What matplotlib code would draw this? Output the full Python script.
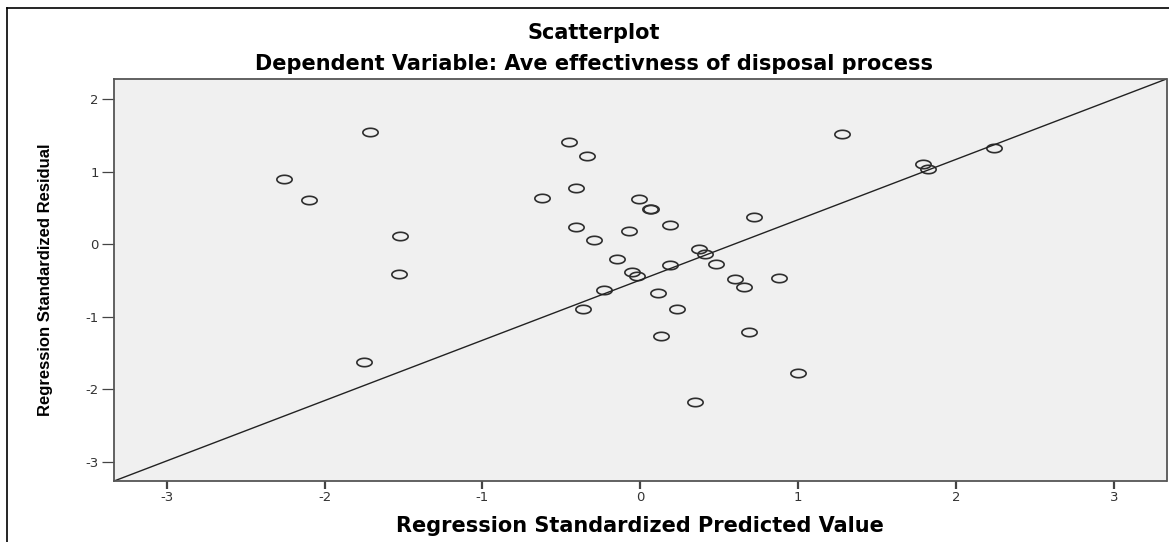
import matplotlib
matplotlib.use("Agg")
import matplotlib.pyplot as plt
from matplotlib.path import Path
from matplotlib.lines import Line2D
import numpy as np

# standardized predicted values and residuals
pred = [-1.71, -2.26, -2.10, -1.52, -1.53, -1.75, -0.45, -0.34, -0.62, -0.41,
        -0.41, -0.01, 0.07, 0.06, -0.07, 0.19, 0.72, -0.29, -0.15, 0.37,
        0.41, 0.48, 0.19, -0.05, -0.02, 0.60, 0.66, 0.88, -0.23, 0.11,
        -0.36, 0.23, 0.13, 0.69, 1.00, 0.35, 1.28, 1.79, 1.82, 2.24]
resid = [1.54, 0.90, 0.61, 0.11, -0.41, -1.62, 1.40, 1.22, 0.64, 0.77,
         0.24, 0.62, 0.48, 0.49, 0.18, 0.26, 0.38, 0.05, -0.20, -0.07,
         -0.14, -0.27, -0.29, -0.39, -0.44, -0.48, -0.59, -0.47, -0.63, -0.67,
         -0.90, -0.89, -1.26, -1.21, -1.77, -2.18, 1.52, 1.11, 1.04, 1.33]

# reference line
line_intercept = -0.495
line_slope = 0.831

x_ticks = [-3, -2, -1, 0, 1, 2, 3]
y_ticks = [-3, -2, -1, 0, 1, 2]
x_lim = (-3.334, 3.334)
y_lim = (-3.265, 2.275)

# horizontally stretched open circle
t = np.linspace(0, 2 * np.pi, 60)
ellipse = Path(np.column_stack([np.cos(t), 0.55 * np.sin(t)]), closed=True)

fig = plt.figure(figsize=(11.69, 5.42), dpi=100)
fig.patch.set_facecolor("white")
ax = fig.add_axes([114 / 1169, 1 - 481 / 542, (1166.5 - 114) / 1169, (481 - 79) / 542])
ax.set_facecolor("#f0f0f0")

ax.plot(pred, resid, linestyle="none", marker=ellipse, markersize=11,
        markerfacecolor="none", markeredgecolor="#2e2e2e", markeredgewidth=1.2)

xs = np.array(x_lim)
ax.plot(xs, line_intercept + line_slope * xs, color="#222222", linewidth=1.0)

ax.set_xlim(*x_lim)
ax.set_ylim(*y_lim)
ax.set_xticks(x_ticks)
ax.set_yticks(y_ticks)
ax.set_xticklabels([str(v) for v in x_ticks])
ax.set_yticklabels([str(v) for v in y_ticks])

for s in ax.spines.values():
    s.set_color("#555555")
    s.set_linewidth(1.3)

ax.tick_params(axis="x", direction="out", length=5.5, width=1.6, color="#444444",
               labelsize=9.5, labelcolor="#333333", pad=2)
ax.tick_params(axis="y", direction="out", length=8.5, width=0.9, color="#444444",
               labelsize=9.5, labelcolor="#333333", pad=2.5)
for lab in ax.get_xticklabels() + ax.get_yticklabels():
    lab.set_family(["DejaVu Sans"])

ax.set_xlabel("Regression Standardized Predicted Value", fontsize=15,
              fontweight="bold", family=["DejaVu Sans"], labelpad=8)
fig.text(46 / 1169, 1 - 280 / 542, "Regression Standardized Residual",
         rotation=90, ha="center", va="center", fontsize=12, fontweight="bold",
         family=["Liberation Sans Narrow", "Liberation Sans"])

fig.text(594 / 1169, 1 - 33 / 542, "Scatterplot", ha="center", va="center",
         fontsize=15, fontweight="bold", family=["DejaVu Sans"])
fig.text(594 / 1169, 1 - 64 / 542, "Dependent Variable: Ave effectivness of disposal process",
         ha="center", va="center", fontsize=15, fontweight="bold", family=["DejaVu Sans"])

# outer chart frame (top and left edges visible)
fig.add_artist(Line2D([7 / 1169, 7 / 1169], [0, 1 - 8 / 542], transform=fig.transFigure,
                      color="black", linewidth=1.2))
fig.add_artist(Line2D([7 / 1169, 1], [1 - 8 / 542, 1 - 8 / 542], transform=fig.transFigure,
                      color="black", linewidth=1.2))

fig.savefig("out.png", dpi=100)
